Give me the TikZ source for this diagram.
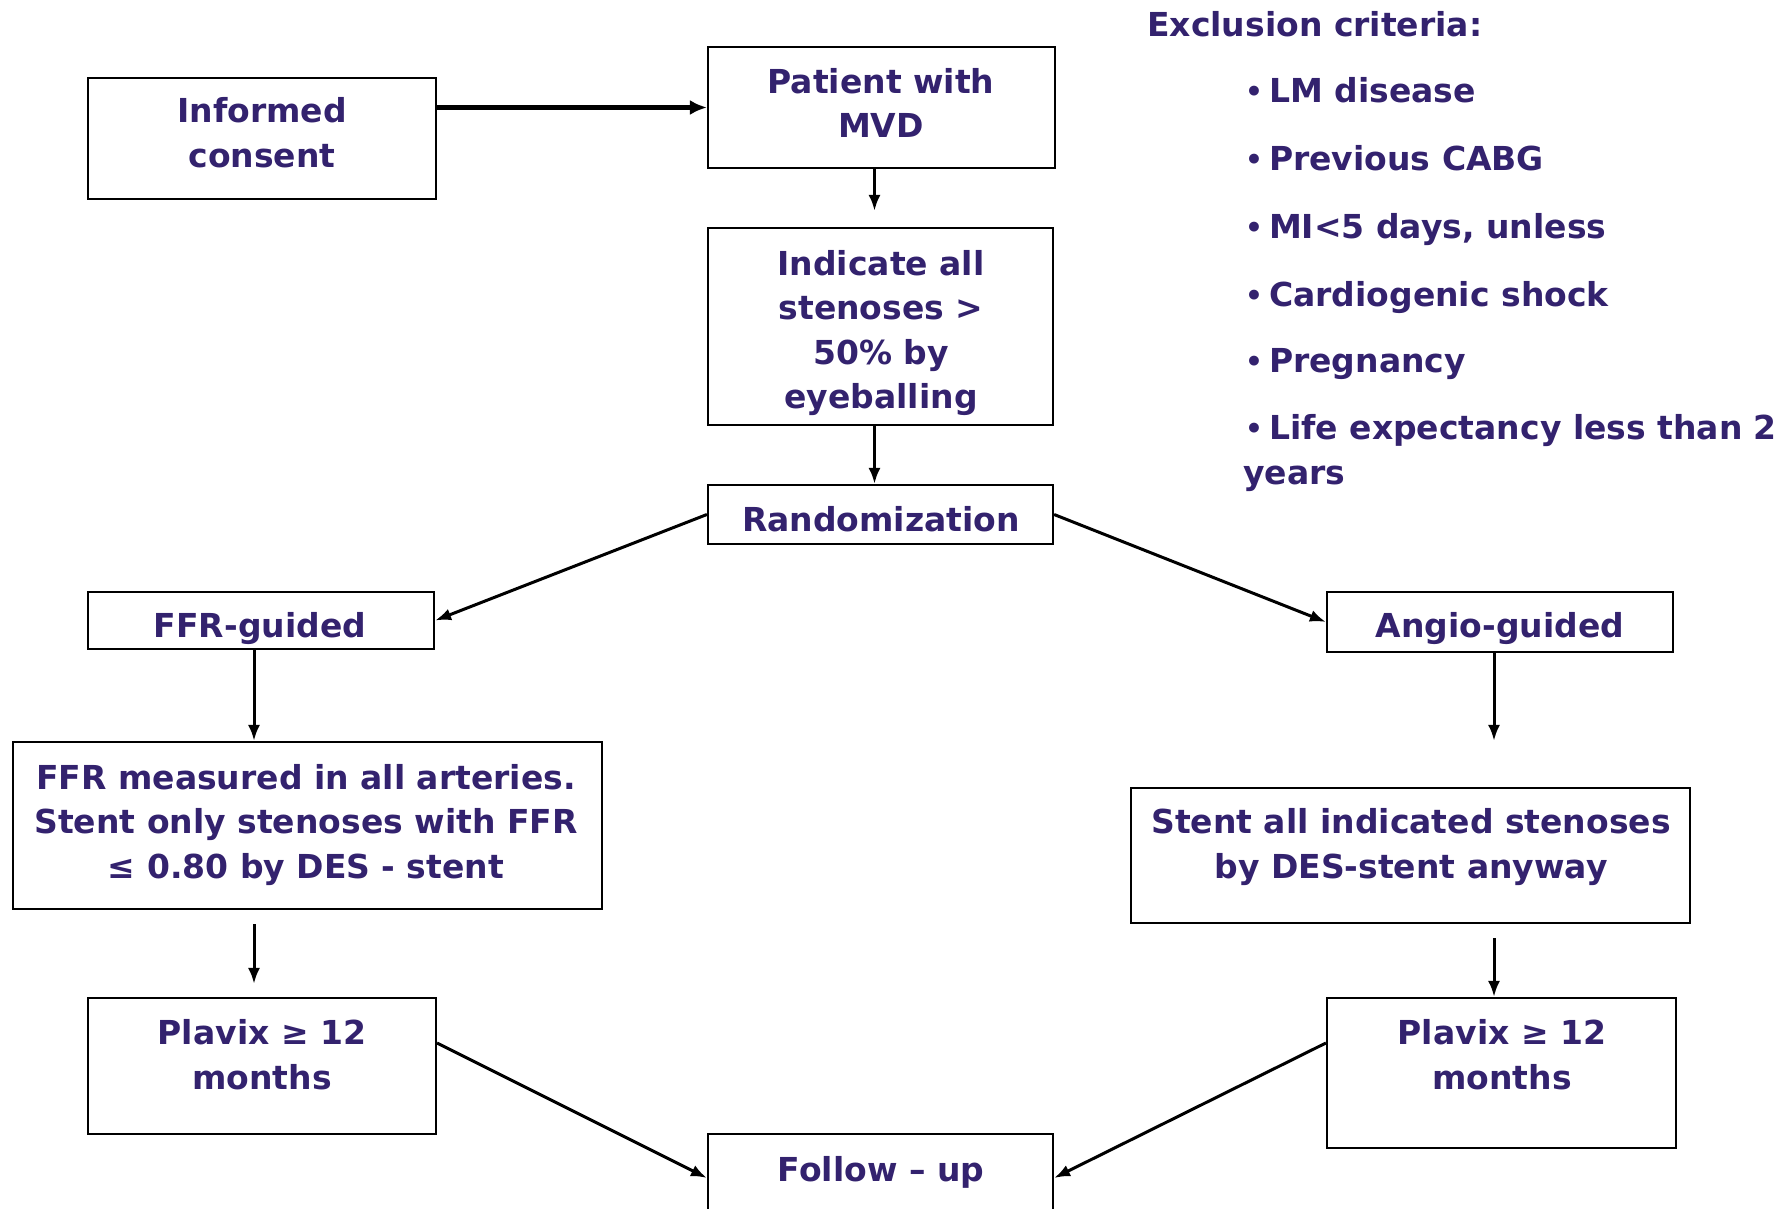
\documentclass[tikz,border=0pt]{standalone}
\usepackage{fontspec}
\setmainfont{DejaVu Sans}[BoldFont={DejaVu Sans Bold}]
\usetikzlibrary{arrows.meta}
\definecolor{ink}{RGB}{51,34,110}
\newcommand{\critbul}{{\fontsize{28}{28}\selectfont\raisebox{1pt}{•}}\hspace{6pt}}
\tikzset{
  box/.style={draw=black, line width=2.2pt, inner sep=0pt, rectangle},
  txt/.style={text=ink, font=\bfseries\fontsize{33}{44.5}\selectfont, align=center, inner sep=0pt},
  crit/.style={text=ink, font=\bfseries\fontsize{33}{44.5}\selectfont, inner sep=0pt, anchor=base west},
  conn/.style={draw=black, line width=3pt, -{Latex[length=16pt,width=12pt]}},
  thickconn/.style={draw=black, line width=4.5pt, -{Latex[length=17pt,width=15pt]}}
}
\begin{document}
\begin{tikzpicture}[x=1pt,y=-1pt]
\useasboundingbox (0,0) rectangle (1791,1209);
% boxes
\node[box, minimum width=348pt, minimum height=121pt] (ic) at (262,138.5) {};
\node[box, minimum width=347pt, minimum height=121pt] (pt) at (881.5,107.5) {};
\node[box, minimum width=345pt, minimum height=197pt] (ind) at (880.5,326.5) {};
\node[box, minimum width=345pt, minimum height=59pt] (rnd) at (880.5,514.5) {};
\node[box, minimum width=346pt, minimum height=57pt] (ffrg) at (261,620.5) {};
\node[box, minimum width=346pt, minimum height=60pt] (ang) at (1500,622) {};
\node[box, minimum width=589pt, minimum height=167pt] (ffrm) at (307.5,825.5) {};
\node[box, minimum width=559pt, minimum height=135pt] (sta) at (1410.5,855.5) {};
\node[box, minimum width=348pt, minimum height=136pt] (pl) at (262,1066) {};
\node[box, minimum width=349pt, minimum height=150pt] (pr) at (1501.5,1073) {};
\node[box, minimum width=345pt, minimum height=81pt] (fu) at (880.5,1174.5) {};
% texts
\node[txt] (t-ic) at (262,132.5) {Informed\\consent};
\node[txt] (t-pt) at (881,103) {Patient with\\MVD};
\node[txt] (t-ind) at (881,333) {Indicate all\\stenoses >\\50\% by\\eyeballing};
\node[txt] (t-rnd) at (881,519.5) {Randomization};
\node[txt] (t-ffrg) at (260,628.5) {FFR-guided};
\node[txt] (t-ang) at (1500,628.5) {Angio-guided};
\node[txt] (t-ffrm) at (306,825) {FFR measured in all arteries.\\Stent only stenoses with FFR\\≤ 0.80 by DES - stent};
\node[txt] (t-sta) at (1411,847) {Stent all indicated stenoses\\by DES-stent anyway};
\node[txt] (t-pl) at (262,1054.5) {Plavix ≥ 12\\months};
\node[txt] (t-pr) at (1502,1054.5) {Plavix ≥ 12\\months};
\node[txt] (t-fu) at (881,1172.5) {Follow – up};
% exclusion criteria
\node[crit] (ex0) at (1147,37) {Exclusion criteria:};
\node[crit] (ex1) at (1245,103) {\critbul LM disease};
\node[crit] (ex2) at (1245,171) {\critbul Previous CABG};
\node[crit] (ex3) at (1245,238) {\critbul MI<5 days, unless};
\node[crit] (ex4) at (1245,306) {\critbul Cardiogenic shock};
\node[crit] (ex5) at (1245,372) {\critbul Pregnancy};
\node[crit] (ex6) at (1245,439) {\critbul Life expectancy less than 2};
\node[crit] (ex7) at (1243,484) {years};
% connectors
\draw[thickconn] (ic.east |- pt.west) -- (pt.west);
\draw[conn] ([xshift=-7pt]pt.south) -- ([xshift=-6pt,yshift=16pt]ind.north);
\draw[conn] ([xshift=-6pt]ind.south) -- ([xshift=-6pt]rnd.north);
\draw[conn] (rnd.west) -- (ffrg.east);
\draw[conn] (rnd.east) -- (ang.west);
\draw[conn] ([xshift=-7pt]ffrg.south) -- ([xshift=-53.5pt]ffrm.north);
\draw[conn] ([xshift=-6pt]ang.south) -- ([xshift=83.5pt,yshift=46pt]sta.north);
\draw[conn] ([xshift=-53.5pt,yshift=-14pt]ffrm.south) -- ([xshift=-8pt,yshift=13pt]pl.north);
\draw[conn] ([xshift=83.5pt,yshift=-14pt]sta.south) -- ([xshift=-7.5pt]pr.north);
\draw[conn] ([yshift=23pt]pl.east) -- ([yshift=-3.5pt]fu.west);
\draw[conn] ([yshift=30pt]pr.west) -- ([yshift=-3.5pt]fu.east);
\end{tikzpicture}
\end{document}
